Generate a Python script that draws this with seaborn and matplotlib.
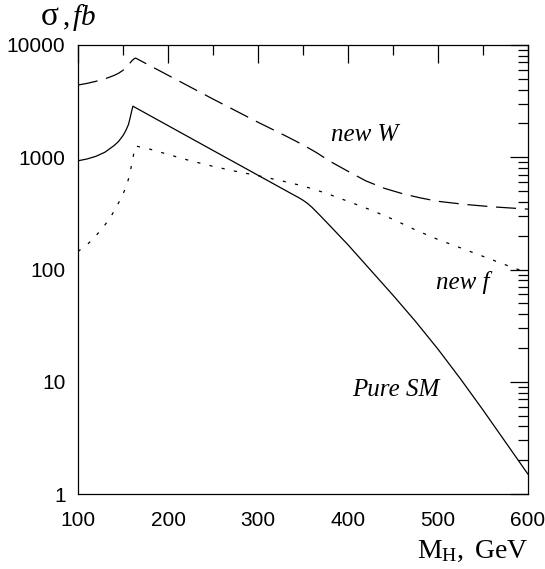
import matplotlib
matplotlib.use("Agg")
import matplotlib.pyplot as plt
import matplotlib.ticker as mticker
import pandas as pd
import seaborn as sns

# curve data (M_H in GeV, sigma in fb)
sm_mass = [100, 110, 120, 130, 140, 145, 150, 153, 156, 158, 159, 160, 161,
           250, 340, 345, 350, 355, 360, 370, 380, 400, 425, 450, 475, 500, 525, 550, 575, 600]
sm_xsec = [930, 965, 1020, 1110, 1270, 1380, 1560, 1720, 1950, 2250, 2450, 2650, 2850,
           1150, 460, 438, 414, 388, 358, 297, 245, 166, 99, 59, 34.5, 19.5, 10.6, 5.6, 2.9, 1.5]

w_mass = [100, 110, 120, 130, 140, 145, 150, 155, 158, 160, 162, 164,
          250, 300, 330, 350, 365, 380, 400, 420, 440, 460, 480, 500, 530, 560, 600]
w_xsec = [4400, 4550, 4750, 5000, 5350, 5600, 5950, 6500, 6950, 7250, 7500, 7650,
          3300, 2050, 1560, 1290, 1100, 920, 750, 615, 530, 475, 435, 405, 380, 362, 345]

f_mass = [100, 105, 111, 120, 130, 137, 145, 150, 154, 157, 160, 162, 164,
          180, 200, 225, 250, 275, 300, 325, 350, 375, 400, 425, 450, 475, 500, 525, 550, 575, 600]
f_xsec = [145, 155, 169, 200, 250, 300, 391, 470, 560, 680, 890, 1080, 1260,
          1180, 1060, 930, 830, 750, 685, 620, 555, 480, 405, 340, 280, 225, 185, 156, 131, 110, 93]

curve_names = ["Pure SM", "new W", "new f"]
x_ticks = [100, 200, 300, 400, 500, 600]
y_ticks = [1, 10, 100, 1000, 10000]

df = pd.concat([
    pd.DataFrame({"mass": sm_mass, "xsec": sm_xsec, "curve": curve_names[0]}),
    pd.DataFrame({"mass": w_mass, "xsec": w_xsec, "curve": curve_names[1]}),
    pd.DataFrame({"mass": f_mass, "xsec": f_xsec, "curve": curve_names[2]}),
])

sns.set_style("white")
plt.rcParams["font.family"] = ["Liberation Sans", "DejaVu Sans"]
plt.rcParams["text.color"] = "black"
plt.rcParams["xtick.color"] = "black"
plt.rcParams["ytick.color"] = "black"
plt.rcParams["mathtext.fontset"] = "custom"
plt.rcParams["mathtext.rm"] = "Liberation Serif"
plt.rcParams["mathtext.it"] = "Liberation Serif:italic"

fig = plt.figure(figsize=(5.45, 5.69), dpi=100)
ax = fig.add_axes([78 / 545, 1 - 494 / 569, 450 / 545, 449 / 569])

sns.lineplot(data=df, x="mass", y="xsec", style="curve", sort=False,
             dashes={"Pure SM": "", "new W": (16, 7), "new f": (2.5, 7.5)},
             color="black", linewidth=0.9, legend=False, ax=ax, estimator=None)

ax.set_yscale("log")
ax.set_xlim(100, 600)
ax.set_ylim(1, 10000)
ax.set_xticks(x_ticks)
ax.set_xticklabels([str(t) for t in x_ticks])
ax.xaxis.set_minor_locator(mticker.MultipleLocator(50))
ax.set_yticks(y_ticks)
ax.set_yticklabels([str(t) for t in y_ticks])
ax.yaxis.set_minor_locator(mticker.LogLocator(base=10, subs=range(2, 10), numticks=20))
ax.yaxis.set_minor_formatter(mticker.NullFormatter())
ax.tick_params(which="both", direction="in", top=True, right=True,
               labelsize=15, color="black", width=0.9)
ax.tick_params(axis="x", which="major", pad=12)
ax.tick_params(axis="y", which="major", pad=9)
ax.tick_params(which="major", length=13)
ax.tick_params(which="minor", length=7)
for s in ax.spines.values():
    s.set_color("black")
    s.set_linewidth(0.9)
ax.set_xlabel("")
ax.set_ylabel("")

# labels on the curves
ax.text(419, 1580, "new W", fontsize=18, family="Liberation Serif", style="italic",
        ha="center", va="center")
ax.text(527, 76, "new f", fontsize=18, family="Liberation Serif", style="italic",
        ha="center", va="center")
ax.text(453, 8.5, "Pure SM", fontsize=18, family="Liberation Serif", style="italic",
        ha="center", va="center")

# axis titles
fig.text(41 / 545, 1 - 25 / 569, "σ", fontsize=24, family="Liberation Serif",
         ha="left", va="baseline")
fig.text(62 / 545, 1 - 25 / 569, r"$\mathrm{,}\,fb$", fontsize=21,
         ha="left", va="baseline")
fig.text(528 / 545, 1 - 558 / 569, r"$\mathrm{M_H,\ GeV}$", fontsize=20,
         ha="right", va="baseline")

fig.savefig("out.png", dpi=100, facecolor="white")
